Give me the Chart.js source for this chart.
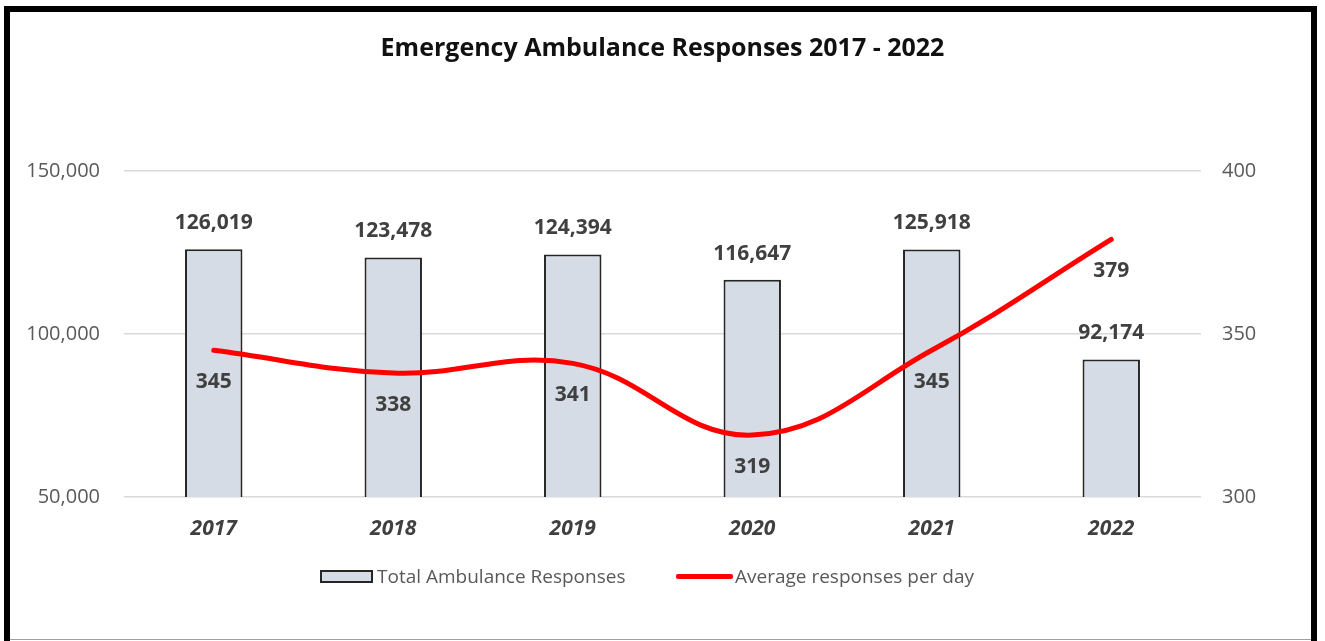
<!DOCTYPE html>
<html>
<head>
<meta charset="utf-8">
<script src="https://cdn.jsdelivr.net/npm/chart.js@4"></script>
<style>
  html, body { margin: 0; padding: 0; background: #fff; }
  body { width: 1325px; height: 641px; position: relative; overflow: hidden; font-family: "Open Sans", sans-serif; }
  #wrap { position: absolute; left: 0; top: 0; width: 1325px; height: 641px; }
  #frame { position: absolute; left: 4px; top: 6px; width: 1313px; height: 700px; border: 6px solid #000; box-sizing: border-box; border-bottom: none; pointer-events: none; }
  #inner { position: absolute; left: 10px; top: 12px; width: 1307px; height: 628px; border-right: 1px solid #a0a0a0; border-bottom: 1px solid #a0a0a0; box-sizing: border-box; pointer-events: none; }
  #legend { position: absolute; top: 563px; left: 0; width: 1325px; height: 26px; font-size: 19px; color: #595959; }
  .item { position: absolute; top: 0; display: flex; align-items: center; height: 26px; }
  .bar-sw { width: 53px; height: 13px; background: #D6DCE5; border: 2px solid #262626; box-sizing: border-box; margin-right: 4px; }
  .line-sw { width: 57px; height: 5px; background: #ff0000; border-radius: 2px; margin-right: 2px; }
</style>
</head>
<body>
<div id="wrap"><canvas id="c" width="1325" height="641"></canvas></div>
<div id="legend">
  <div class="item" style="left:320px"><div class="bar-sw"></div><span id="lg1"></span></div>
  <div class="item" style="left:676px"><div class="line-sw"></div><span id="lg2"></span></div>
</div>
<div id="inner"></div>
<div id="frame"></div>
<script>
const TITLE = "Emergency Ambulance Responses 2017 - 2022";
const categories = ["2017", "2018", "2019", "2020", "2021", "2022"];
const totalResponses = [126019, 123478, 124394, 116647, 125918, 92174];
const avgPerDay = [345, 338, 341, 319, 345, 379];
const seriesNames = ["Total Ambulance Responses", "Average responses per day"];
const leftTicks = [50000, 100000, 150000];
const rightTicks = [300, 350, 400];

document.getElementById('lg1').textContent = seriesNames[0];
document.getElementById('lg2').textContent = seriesNames[1];

const FONT = '"Open Sans", "Noto Sans", sans-serif';

const labelPlugin = {
  id: 'valueLabels',
  afterDatasetsDraw(chart) {
    const ctx = chart.ctx;
    ctx.save();
    ctx.fillStyle = '#404040';
    ctx.font = 'bold 21px ' + FONT;
    ctx.textAlign = 'center';
    ctx.textBaseline = 'middle';
    const barMeta = chart.getDatasetMeta(0);
    barMeta.data.forEach((el, i) => {
      ctx.fillText(totalResponses[i].toLocaleString('en-US'), el.x, el.y - 26);
    });
    const lineMeta = chart.getDatasetMeta(1);
    lineMeta.data.forEach((el, i) => {
      ctx.fillText(String(avgPerDay[i]), el.x, el.y + 32);
    });
    ctx.restore();
  }
};

new Chart(document.getElementById('c'), {
  data: {
    labels: categories,
    datasets: [
      {
        type: 'bar',
        label: seriesNames[0],
        data: totalResponses,
        yAxisID: 'y',
        backgroundColor: '#D6DCE5',
        borderColor: '#262626',
        borderWidth: 2,
        categoryPercentage: 1,
        barPercentage: 0.32,
        order: 2
      },
      {
        type: 'line',
        label: seriesNames[1],
        data: avgPerDay,
        yAxisID: 'y1',
        borderColor: '#ff0000',
        borderWidth: 5,
        borderCapStyle: 'round',
        pointRadius: 0,
        tension: 0.4,
        fill: false,
        order: 1
      }
    ]
  },
  options: {
    responsive: false,
    animation: false,
    devicePixelRatio: 1,
    layout: { padding: { top: 0, bottom: 0, left: 0, right: 0 } },
    plugins: {
      legend: { display: false },
      tooltip: { enabled: false },
      title: {
        display: true,
        text: TITLE,
        color: '#111',
        font: { family: FONT, size: 25, weight: 'bold', lineHeight: 1.2 },
        padding: { top: 34, bottom: 107 }
      }
    },
    scales: {
      x: {
        grid: { display: false },
        border: { display: false },
        ticks: { color: '#404040', font: { family: FONT, size: 21, weight: 'bold', style: 'italic' }, padding: 11 },
        afterFit(s) { s.height = 144; }
      },
      y: {
        position: 'left',
        min: 50000, max: 150000,
        afterBuildTicks(s) { s.ticks = leftTicks.map(v => ({ value: v })); },
        grid: { color: '#D9D9D9', lineWidth: 1.5, drawTicks: false },
        border: { display: false },
        ticks: { color: '#595959', font: { family: FONT, size: 20 }, padding: 24,
          callback: v => Number(v).toLocaleString('en-US') },
        afterFit(s) { s.width = 124; }
      },
      y1: {
        position: 'right',
        min: 300, max: 400,
        afterBuildTicks(s) { s.ticks = rightTicks.map(v => ({ value: v })); },
        grid: { display: false, drawTicks: false },
        border: { display: false },
        ticks: { color: '#595959', font: { family: FONT, size: 20 }, padding: 21 },
        afterFit(s) { s.width = 124; }
      }
    }
  },
  plugins: [labelPlugin]
});
</script>
</body>
</html>
